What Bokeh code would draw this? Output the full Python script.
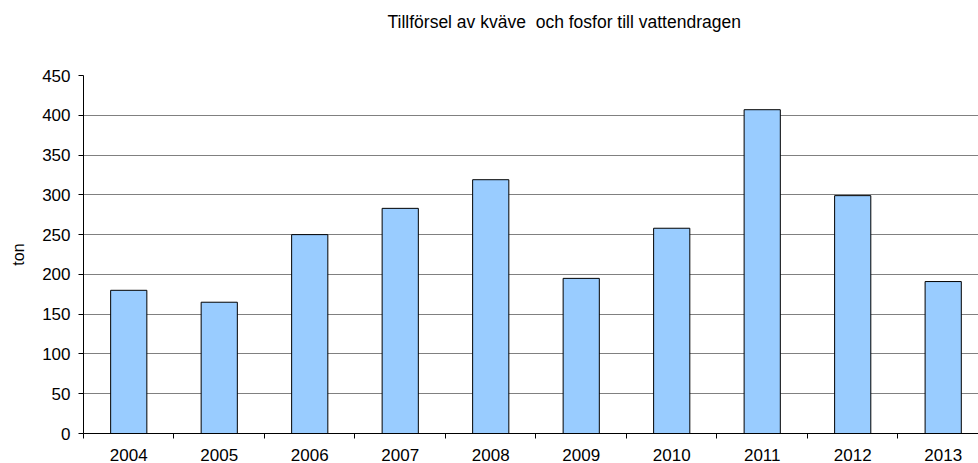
from bokeh.plotting import figure
from bokeh.models import Range1d, FixedTicker, ColumnDataSource, Title
from bokeh.embed import file_html
from bokeh.resources import INLINE

years = ["2004", "2005", "2006", "2007", "2008", "2009", "2010", "2011", "2012", "2013"]
values = [180, 165, 250, 283, 319, 195, 258, 407, 299, 191]
y_ticks = [0, 50, 100, 150, 200, 250, 300, 350, 400, 450]
title_text = "Tillförsel av kväve\u00a0 och fosfor till vattendragen"
y_label = "ton"

FONT = "Liberation Sans"

xs = [i + 0.5 for i in range(len(years))]
src = ColumnDataSource(dict(x=xs, top=values, year=years))

p = figure(width=978, height=463, output_backend="svg", toolbar_location=None,
           x_range=Range1d(0, 9.89), y_range=Range1d(0, 450),
           min_border_left=83, min_border_top=0, min_border_right=0, min_border_bottom=30)
p.outline_line_color = None
p.background_fill_color = "white"
p.border_fill_color = "white"
p.title.text = ""
p.title.standoff = 0

spacer = Title(text=" ", text_font_size="1px", standoff=32)
main_title = Title(text=title_text, align="left", offset=304, standoff=18,
                   text_font=FONT, text_font_size="17.5px", text_font_style="normal",
                   text_color="black")
p.add_layout(spacer, "above")
p.add_layout(main_title, "above")

p.vbar(x="x", top="top", width=0.4, bottom=0, source=src,
       fill_color="#99CCFF", line_color="black", line_width=1)

p.xgrid.grid_line_color = None
p.ygrid.grid_line_color = "#808080"
p.ygrid.grid_line_width = 1

# x axis
p.xaxis.ticker = FixedTicker(ticks=xs, minor_ticks=list(range(len(years) + 1)))
p.xaxis.major_label_overrides = {x: y for x, y in zip(xs, years)}
p.xaxis.major_tick_out = 0
p.xaxis.major_tick_in = 0
p.xaxis.minor_tick_out = 5
p.xaxis.minor_tick_in = 0
p.xaxis.minor_tick_line_color = "black"
p.xaxis.axis_line_color = "black"
p.xaxis.major_label_standoff = 10
p.xaxis.major_label_text_font = FONT
p.xaxis.major_label_text_font_size = "17px"
p.xaxis.major_label_text_color = "black"

# y axis
p.yaxis.ticker = FixedTicker(ticks=y_ticks)
p.yaxis.major_tick_out = 5
p.yaxis.major_tick_in = 0
p.yaxis.minor_tick_line_color = None
p.yaxis.axis_line_color = "black"
p.yaxis.major_tick_line_color = "black"
p.yaxis.major_label_standoff = 8
p.yaxis.major_label_text_font = FONT
p.yaxis.major_label_text_font_size = "17px"
p.yaxis.major_label_text_color = "black"
p.yaxis.axis_label = y_label
p.yaxis.axis_label_text_font = FONT
p.yaxis.axis_label_text_font_size = "16px"
p.yaxis.axis_label_text_font_style = "normal"
p.yaxis.axis_label_text_color = "black"
p.yaxis.axis_label_standoff = 12

open("out.html", "w").write(file_html(p, INLINE))
